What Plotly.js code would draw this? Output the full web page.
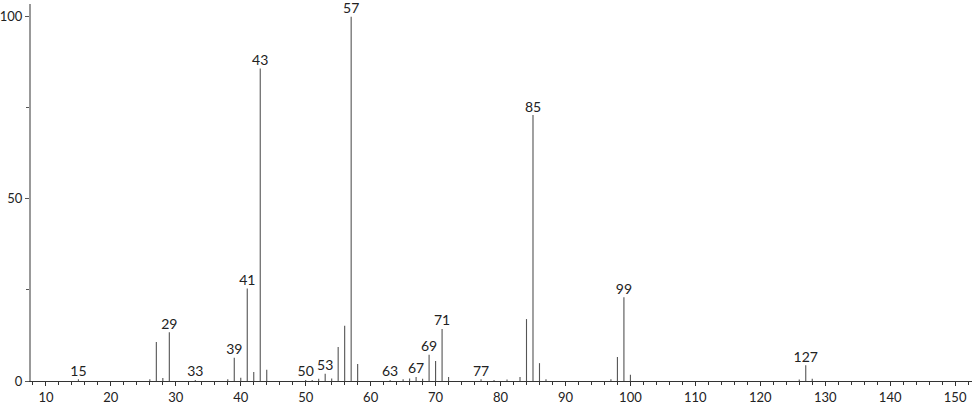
<!DOCTYPE html>
<html>
<head>
<meta charset="utf-8">
<script src="https://cdn.plot.ly/plotly-3.0.1.min.js"></script>
<style>html,body{margin:0;padding:0;background:#fff}#chart{width:974px;height:406px}</style>
</head>
<body>
<div id="chart"></div>
<script>
// m/z values and relative intensities
const mz = [15, 26, 27, 28, 29, 33, 38, 39, 40, 41, 42, 43, 44, 50, 51, 52, 53, 54, 55, 56, 57, 58,
            63, 65, 66, 67, 68, 69, 70, 71, 72, 77, 79, 81, 83, 84, 85, 86, 87, 97, 98, 99, 100, 126, 127, 128];
const intensity = [0.5, 0.5, 10.7, 0.8, 13.4, 0.3, 0.5, 6.4, 0.9, 25.4, 2.5, 85.8, 3.1, 0.3, 0.3, 0.6, 2.0, 0.7, 9.3, 15.2, 100, 4.7,
            0.3, 0.5, 0.7, 1.1, 0.6, 7.2, 5.5, 14.3, 1.1, 0.5, 0.3, 0.4, 1.1, 17.0, 73.0, 4.9, 0.5, 0.5, 6.6, 23.0, 1.7, 0.4, 4.3, 0.6];
// labelled peaks
const labelMz = [15, 29, 33, 39, 41, 43, 50, 53, 57, 63, 67, 69, 71, 77, 85, 99, 127];
const labelText = labelMz.map(String);
const labelY = labelMz.map(m => intensity[mz.indexOf(m)]);

const font = {family: 'Lato, "DejaVu Sans", sans-serif', size: 14, color: '#222'};
const tickFont = {family: 'Lato, "DejaVu Sans", sans-serif', size: 13, color: '#222'};

const traces = [
  {
    type: 'bar', x: mz, y: intensity, width: 0.17,
    marker: {color: '#555', line: {width: 0}},
    hoverinfo: 'x+y'
  },
  {
    type: 'scatter', mode: 'text', x: labelMz, y: labelY, text: labelText,
    textposition: 'top center', textfont: font, cliponaxis: false, hoverinfo: 'skip'
  }
];

const layout = {
  width: 974, height: 406,
  margin: {l: 31, r: 2, t: 4, b: 25},
  paper_bgcolor: '#fff', plot_bgcolor: '#fff',
  showlegend: false,
  font: font,
  xaxis: {
    range: [7.7, 152.6], tick0: 0, dtick: 10,
    showgrid: false, zeroline: false,
    showline: true, linecolor: '#333', linewidth: 1,
    ticks: 'outside', ticklen: 4, tickcolor: '#333', tickwidth: 1,
    ticklabelstandoff: 0,
    minor: {dtick: 2, ticks: 'outside', ticklen: 3, tickcolor: '#333', showgrid: false},
    tickfont: tickFont
  },
  yaxis: {
    range: [0, 103.5], tickvals: [0, 50, 100], ticktext: ['0', '50', '100'],
    showgrid: false, zeroline: false,
    showline: true, linecolor: '#999', linewidth: 2,
    ticks: 'outside', ticklen: 4, tickcolor: '#555', tickwidth: 1,
    ticklabelstandoff: 0,
    minor: {tickvals: [25, 75], ticks: 'outside', ticklen: 3, tickcolor: '#555', showgrid: false},
    tickfont: tickFont
  }
};

Plotly.newPlot('chart', traces, layout, {displayModeBar: false, staticPlot: true});
</script>
</body>
</html>
